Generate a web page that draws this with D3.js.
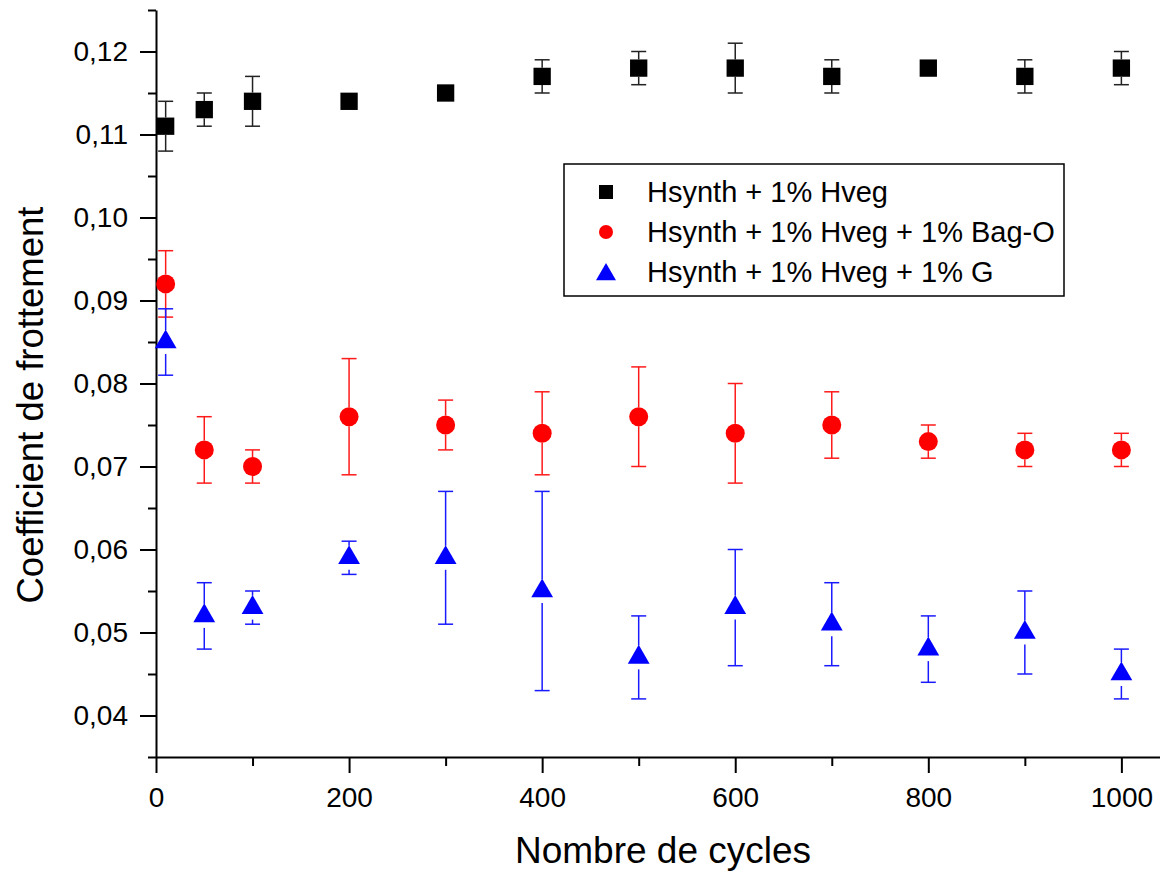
<!DOCTYPE html>
<html>
<head>
<meta charset="utf-8">
<script src="https://cdn.jsdelivr.net/npm/d3@7"></script>
<style>
  html, body { margin: 0; padding: 0; background: #fff; }
  svg { display: block; }
  text { font-family: "Liberation Sans", Arial, sans-serif; fill: #000; }
</style>
</head>
<body>
<div id="chart"></div>
<script>
// ---- data ----
const cycles = [10, 50, 100, 200, 300, 400, 500, 600, 700, 800, 900, 1000];

const hvegValues = [0.111, 0.113, 0.114, 0.114, 0.115, 0.117, 0.118, 0.118, 0.117, 0.118, 0.117, 0.118];
const hvegErrors = [0.003, 0.002, 0.003, 0, 0, 0.002, 0.002, 0.003, 0.002, 0, 0.002, 0.002];

const bagValues = [0.092, 0.072, 0.070, 0.076, 0.075, 0.074, 0.076, 0.074, 0.075, 0.073, 0.072, 0.072];
const bagErrors = [0.004, 0.004, 0.002, 0.007, 0.003, 0.005, 0.006, 0.006, 0.004, 0.002, 0.002, 0.002];

const gValues = [0.085, 0.052, 0.053, 0.059, 0.059, 0.055, 0.047, 0.053, 0.051, 0.048, 0.050, 0.045];
const gErrors = [0.004, 0.004, 0.002, 0.002, 0.008, 0.012, 0.005, 0.007, 0.005, 0.004, 0.005, 0.003];

const seriesNames = ["Hsynth + 1% Hveg", "Hsynth + 1% Hveg + 1% Bag-O", "Hsynth + 1% Hveg + 1% G"];

const xTicks = [0, 200, 400, 600, 800, 1000];
const xMinorTicks = [100, 300, 500, 700, 900];
const yTicks = [0.04, 0.05, 0.06, 0.07, 0.08, 0.09, 0.10, 0.11, 0.12];
const yMinorTicks = [0.035, 0.045, 0.055, 0.065, 0.075, 0.085, 0.095, 0.105, 0.115, 0.125];

const xTitle = "Nombre de cycles";
const yTitle = "Coefficient de frottement";

// ---- chart ----
const W = 1160, H = 872;
const svg = d3.select("#chart").append("svg").attr("width", W).attr("height", H);

const x = d3.scaleLinear().domain([0, 1040]).range([156, 1160]);
const y = d3.scaleLinear().domain([0.035, 0.125]).range([757, 10]);

const fr = d3.formatLocale({decimal: ",", thousands: " ", grouping: [3], currency: ["", "€"]});
const yFmt = fr.format(".2f");

const series = [
  {name: seriesNames[0], values: hvegValues, errors: hvegErrors, color: "#000000", errColor: "#222222",
   symbol: d3.symbolSquare, size: 300, gap: 8.7, legSize: 196},
  {name: seriesNames[1], values: bagValues, errors: bagErrors, color: "#ff0000", errColor: "#ff1a1a",
   symbol: d3.symbolCircle, size: 284, gap: 9.5, legSize: 154},
  {name: seriesNames[2], values: gValues, errors: gErrors, color: "#0000ff", errColor: "#1a1aff",
   symbol: d3.symbolTriangle, size: 206, gap: 12, legSize: 173}
];

// axes
const fontTick = 28;
const yAxis = svg.append("g").attr("transform", `translate(${x(0)},0)`)
  .call(d3.axisLeft(y).tickValues(yTicks).tickFormat(yFmt).tickSize(16).tickPadding(12).tickSizeOuter(0));
const yMinor = svg.append("g").attr("transform", `translate(${x(0)},0)`)
  .call(d3.axisLeft(y).tickValues(yMinorTicks).tickFormat("").tickSize(8).tickSizeOuter(0));
yMinor.select(".domain").remove();

const xAxis = svg.append("g").attr("transform", `translate(0,${y(0.035)})`)
  .call(d3.axisBottom(x).tickValues(xTicks).tickFormat(d3.format("d")).tickSize(16).tickPadding(14).tickSizeOuter(0));
const xMinor = svg.append("g").attr("transform", `translate(0,${y(0.035)})`)
  .call(d3.axisBottom(x).tickValues(xMinorTicks).tickFormat("").tickSize(9).tickSizeOuter(0));
xMinor.select(".domain").remove();

svg.selectAll(".domain").attr("stroke", "#000").attr("stroke-width", 2);
svg.selectAll(".tick line").attr("stroke", "#000").attr("stroke-width", 2);
svg.selectAll(".tick text").attr("font-size", fontTick)
  .attr("font-family", "'Liberation Sans', Arial, sans-serif").attr("fill", "#000");

// axis titles
svg.append("text").attr("x", 663).attr("y", 863).attr("text-anchor", "middle")
  .attr("font-size", 37).text(xTitle);
svg.append("text").attr("transform", "translate(43,405) rotate(-90)").attr("text-anchor", "middle")
  .attr("font-size", 36.5).text(yTitle);

// series
series.forEach(s => {
  const g = svg.append("g");
  const pts = cycles.map((c, i) => ({c, v: s.values[i], e: s.errors[i]}));
  pts.forEach(p => {
    if (p.e <= 0) return;
    const cx = x(p.c), cy = y(p.v);
    const yt = y(p.v + p.e), yb = y(p.v - p.e);
    const eg = g.append("g").attr("stroke", s.errColor).attr("stroke-width", 1.5).attr("fill", "none");
    if (cy - s.gap > yt) eg.append("line").attr("x1", cx).attr("x2", cx).attr("y1", yt).attr("y2", cy - s.gap);
    if (cy + s.gap < yb) eg.append("line").attr("x1", cx).attr("x2", cx).attr("y1", cy + s.gap).attr("y2", yb);
    eg.append("line").attr("x1", cx - 7.5).attr("x2", cx + 7.5).attr("y1", yt).attr("y2", yt);
    eg.append("line").attr("x1", cx - 7.5).attr("x2", cx + 7.5).attr("y1", yb).attr("y2", yb);
  });
  g.selectAll("path.mk").data(pts).join("path").attr("class", "mk")
    .attr("transform", d => `translate(${x(d.c)},${y(d.v)})`)
    .attr("d", d3.symbol().type(s.symbol).size(s.size))
    .attr("fill", s.color);
});

// legend
const leg = svg.append("g");
leg.append("rect").attr("x", 564).attr("y", 164).attr("width", 500).attr("height", 132)
  .attr("fill", "#fff").attr("stroke", "#000").attr("stroke-width", 1.5);
const rowY = [192, 232, 272];
series.forEach((s, i) => {
  const my = s.symbol === d3.symbolTriangle ? rowY[i] + 2.5 : rowY[i];
  leg.append("path").attr("transform", `translate(606,${my})`)
    .attr("d", d3.symbol().type(s.symbol).size(s.legSize)).attr("fill", s.color);
  leg.append("text").attr("x", 647).attr("y", rowY[i] + 10).attr("font-size", 29).text(s.name);
});
</script>
</body>
</html>
